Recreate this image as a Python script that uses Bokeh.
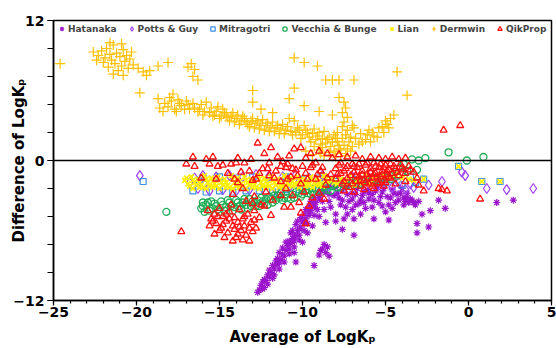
from bokeh.plotting import figure
from bokeh.models import FixedTicker, Span, Legend, LegendItem
from bokeh.embed import file_html
from bokeh.resources import INLINE

# ---------------- data ----------------
x_ticks = [-25, -20, -15, -10, -5, 0, 5]
x_minor = list(range(-25, 6))
y_ticks = [-12, 0, 12]
y_minor = [-12, -9.6, -7.2, -4.8, -2.4, 0, 2.4, 4.8, 7.2, 9.6, 12]

x_title = "Average of LogK\u209a"
y_title = "Difference of LogK\u209a"

hatanaka = [
    (-12.6, -11.1), (-12.5, -10.7), (-12.3, -10.9), (-12.2, -10.3), (-12.0, -10.0), (-12.3, -10.2),
    (-11.9, -9.6), (-11.7, -9.3), (-12.0, -9.4), (-11.5, -8.9), (-11.6, -8.6), (-11.3, -8.5),
    (-11.2, -8.1), (-11.4, -7.9), (-11.0, -7.7), (-10.9, -7.3), (-10.7, -7.1), (-11.0, -7.0),
    (-10.6, -6.7), (-10.4, -6.4), (-10.7, -6.2), (-10.3, -6.0), (-10.1, -5.7), (-10.4, -5.5),
    (-9.9, -5.4), (-9.8, -5.0), (-10.1, -4.9), (-9.6, -4.7), (-9.5, -4.3), (-9.8, -4.2),
    (-9.3, -4.0), (-9.2, -3.6), (-9.5, -3.5), (-9.0, -3.3), (-8.9, -2.9), (-8.7, -2.7),
    (-8.5, -2.4), (-8.8, -2.3), (-8.2, -2.2),
    (-12.7, -11.3), (-12.4, -11.0), (-12.1, -10.6), (-12.4, -10.4), (-11.8, -10.1), (-12.1, -9.8),
    (-11.7, -9.8), (-11.4, -9.3), (-11.8, -9.0), (-11.4, -8.8), (-11.1, -8.7), (-11.5, -8.4),
    (-11.1, -8.2), (-10.8, -8.0), (-11.2, -7.5), (-10.8, -7.6), (-10.5, -7.4), (-10.8, -6.9),
    (-10.5, -6.9), (-10.2, -6.8), (-10.5, -6.5), (-10.2, -6.4), (-10.6, -6.0), (-10.2, -5.9),
    (-9.9, -6.0), (-10.3, -5.2), (-10.0, -5.2), (-9.7, -5.4), (-9.9, -4.6), (-9.6, -4.4),
    (-9.3, -4.7), (-9.6, -3.9), (-9.3, -3.8), (-9.1, -4.2), (-9.3, -3.2), (-9.0, -3.0),
    (-8.8, -3.5), (-8.9, -2.5), (-8.6, -2.5), (-8.4, -2.9), (-8.3, -2.0), (-8.0, -2.0),
    (-10.5, -7.9), (-10.0, -7.0), (-9.7, -6.2), (-9.4, -5.6), (-9.0, -4.8), (-8.7, -4.2),
    (-8.4, -3.5), (-8.1, -3.0),
    (-10.4, -8.7), (-9.3, -9.0), (-8.8, -7.6), (-8.6, -7.9), (-8.5, -7.4), (-8.7, -7.2),
    (-9.0, -8.1), (-8.4, -8.2), (-8.9, -7.7), (-7.6, -5.9), (-6.9, -6.4),
    (-8.0, -2.3), (-7.6, -2.6), (-7.3, -2.2), (-7.0, -2.8), (-6.7, -2.4), (-6.4, -3.0),
    (-6.1, -2.5), (-5.8, -2.9), (-5.5, -2.3), (-5.2, -2.7), (-4.9, -3.1), (-4.6, -2.5),
    (-4.3, -2.9), (-4.0, -2.4), (-3.7, -2.8), (-3.4, -3.4), (-3.2, -3.8), (-3.6, -3.6),
    (-7.8, -3.2), (-7.2, -3.5), (-6.6, -3.7), (-6.0, -3.3), (-5.4, -3.6), (-4.8, -3.8),
    (-4.2, -3.4), (-3.9, -3.2), (-7.4, -4.0), (-6.2, -4.1), (-5.0, -4.4), (-3.0, -3.5),
    (-3.8, -3.5), (-3.5, -3.3), (-3.3, -3.6),
    (-7.9, -2.8), (-7.6, -3.4), (-7.3, -2.9), (-7.0, -3.3), (-6.8, -2.9), (-6.5, -3.4),
    (-6.3, -2.7), (-6.0, -2.8), (-5.7, -3.4), (-5.6, -2.6), (-5.3, -3.1), (-5.1, -2.4),
    (-4.7, -3.2), (-4.5, -2.8), (-4.4, -3.6), (-4.1, -2.8), (-3.9, -3.8), (-3.7, -3.2),
    (-7.7, -3.8), (-7.0, -4.2), (-6.8, -3.8), (-6.3, -3.6), (-5.8, -4.0), (-5.2, -3.9),
    (-4.6, -4.1), (-8.0, -4.6), (-7.3, -4.6), (-8.3, -4.0), (-8.0, -5.2), (-7.5, -5.0),
    (-6.9, -5.0), (-8.6, -5.3),
    (-5.7, -5.0), (-4.8, -5.1), (-3.1, -5.4), (-3.1, -6.2), (-2.4, -5.7), (-1.8, -3.4),
    (-1.4, -4.1), (-2.3, -4.3), (1.7, -3.6), (2.7, -3.4), (-6.5, -4.6), (-2.8, -4.6),
]

potts_guy = [
    (-19.8, -1.3),
    (-16.8, -1.9), (-16.5, -1.5), (-16.3, -2.4), (-16.0, -1.3), (-15.6, -2.6), (-15.2, -1.4),
    (-14.8, -2.5), (-14.4, -1.3), (-14.0, -2.6), (-13.6, -1.4), (-13.2, -2.5), (-12.8, -1.2),
    (-12.4, -2.4), (-12.0, -1.3), (-11.6, -2.5), (-11.2, -1.4), (-10.8, -2.3), (-10.4, -1.2),
    (-10.0, -2.4), (-9.6, -1.5), (-9.2, -2.3), (-8.8, -1.3), (-8.4, -2.2), (-8.0, -1.6),
    (-7.5, -2.1), (-7.0, -1.4), (-6.5, -2.0), (-6.0, -1.5), (-5.5, -2.2), (-5.0, -1.7),
    (-4.6, -2.3), (-4.2, -1.9), (-3.8, -2.5), (-3.5, -2.0), (-15.9, -2.0), (-13.0, -1.9),
    (-10.2, -1.8),
    (-3.3, -2.3), (-2.4, -2.1), (-0.4, -1.0), (-0.2, -1.3), (1.1, -2.4), (2.3, -2.5),
    (3.9, -2.4), (-1.6, -1.8),
]

mitragotri = [
    (-19.6, -1.8),
    (-16.6, -2.6), (-16.2, -1.7), (-15.8, -2.7), (-15.0, -2.6), (-14.2, -2.7), (-13.4, -2.6),
    (-12.6, -2.6), (-11.8, -2.7), (-11.0, -2.5), (-10.2, -2.5), (-9.4, -2.4), (-8.6, -2.3),
    (-16.0, -1.5), (-15.0, -1.4), (-14.0, -1.5), (-13.0, -1.4), (-12.0, -1.5), (-11.0, -1.4),
    (-10.0, -1.6), (-9.0, -1.5), (-8.0, -1.8), (-7.0, -1.7), (-6.0, -1.8), (-5.0, -1.9),
    (-4.0, -2.1), (-3.5, -1.4), (-2.7, -1.6), (-0.6, -0.5), (0.8, -1.8), (1.9, -1.8),
    (-4.6, -1.6), (-3.2, -1.9),
]

vecchia_bunge = [
    (-18.2, -4.4),
    (-16.0, -3.6), (-16.1, -4.1), (-15.8, -3.8), (-15.6, -4.3), (-15.5, -3.5), (-15.2, -3.9),
    (-15.0, -4.4), (-14.9, -3.5), (-14.6, -4.0), (-14.4, -3.6), (-14.2, -4.3), (-14.0, -3.4),
    (-13.8, -3.9), (-13.5, -3.3), (-13.3, -4.1), (-13.0, -3.5), (-12.8, -3.9), (-12.5, -3.2),
    (-12.3, -3.7), (-12.0, -3.1), (-11.8, -3.6), (-11.5, -3.0), (-11.2, -3.4), (-11.0, -2.9),
    (-10.7, -3.3), (-10.4, -2.7), (-10.1, -3.1), (-9.8, -2.6), (-9.5, -2.9), (-9.2, -2.4),
    (-8.9, -2.7), (-8.6, -2.2), (-8.3, -2.6), (-8.0, -2.0), (-7.7, -2.3), (-7.4, -1.9),
    (-7.1, -2.2), (-6.8, -1.7), (-6.5, -2.0), (-6.2, -1.6), (-5.9, -1.9), (-5.6, -1.5),
    (-5.3, -1.8), (-5.0, -1.3), (-4.7, -1.6), (-4.4, -1.0), (-4.1, -0.6), (-3.9, -0.3),
    (-3.4, 0.1), (-3.0, 0.0), (-2.6, 0.2), (-3.1, -0.8), (-3.7, -0.9),
    (-16.0, -3.9), (-15.9, -4.4), (-15.7, -3.6), (-15.4, -4.1), (-15.3, -3.7), (-15.1, -4.2),
    (-14.8, -3.8), (-14.7, -4.3), (-14.5, -3.4), (-14.3, -3.9), (-14.1, -4.0), (-13.9, -3.6),
    (-13.7, -4.2), (-13.6, -3.6), (-13.4, -3.8), (-13.2, -3.3), (-13.1, -3.9), (-12.9, -3.6),
    (-12.7, -3.4), (-12.6, -3.9), (-12.4, -3.5), (-12.2, -3.3), (-12.1, -3.8), (-11.9, -3.3),
    (-11.7, -3.0), (-11.6, -3.4), (-11.4, -3.2), (-11.3, -2.8), (-11.1, -3.2), (-10.9, -3.2),
    (-10.6, -2.9), (-10.5, -3.2), (-10.2, -2.8), (-10.0, -2.9), (-9.7, -2.8), (-9.6, -2.5),
    (-9.4, -2.7), (-9.0, -2.5), (-8.8, -2.3), (-8.5, -2.5), (-8.2, -2.2), (-7.9, -2.3),
    (-7.6, -2.0), (-7.3, -2.1), (-7.0, -1.9), (-6.7, -2.0), (-6.4, -1.8), (-6.1, -1.8),
    (-5.8, -1.6), (-5.5, -1.7), (-5.2, -1.5), (-4.9, -1.5), (-4.6, -1.3), (-4.3, -1.3),
    (-4.0, -1.0),
    (-1.2, 0.7), (-0.1, 0.0), (0.9, 0.3),
]

lian = [
    (-17.1, -1.7), (-16.7, -1.4), (-16.3, -1.6), (-15.9, -1.3), (-15.5, -1.5), (-15.1, -1.4),
    (-14.7, -1.6), (-14.3, -1.3), (-13.9, -1.5), (-13.5, -1.4), (-13.1, -1.6), (-12.7, -1.3),
    (-12.3, -1.5), (-11.9, -1.4), (-11.5, -1.6), (-11.1, -1.3), (-10.7, -1.5), (-10.3, -1.4),
    (-9.9, -1.6), (-9.5, -1.4), (-9.1, -1.5), (-8.7, -1.3), (-8.3, -1.6),
    (-16.9, -2.0), (-16.5, -1.9), (-16.1, -2.1), (-15.7, -1.9), (-15.3, -2.0), (-14.9, -1.9),
    (-14.5, -2.1), (-14.1, -1.9), (-13.7, -2.0), (-13.3, -1.9), (-12.9, -2.1), (-12.5, -1.9),
    (-12.1, -2.0), (-11.7, -1.9), (-11.3, -2.1), (-10.9, -1.9), (-10.5, -2.0), (-10.1, -1.9),
    (-9.7, -2.1), (-9.3, -1.9), (-8.9, -2.0), (-8.5, -1.8), (-8.1, -1.9),
    (-16.6, -2.4), (-16.2, -2.3), (-15.8, -2.4), (-15.4, -2.3), (-15.0, -2.4), (-14.6, -2.3),
    (-14.2, -2.4), (-13.8, -2.3), (-13.4, -2.4), (-13.0, -2.3), (-12.6, -2.4), (-12.2, -2.3),
    (-11.8, -2.4), (-11.4, -2.3), (-11.0, -2.3), (-10.6, -2.2), (-10.2, -2.3), (-9.8, -2.2),
    (-9.4, -2.3), (-9.0, -2.1),
    (-17.0, -1.5), (-16.6, -1.7), (-16.2, -1.9), (-15.8, -1.6), (-15.4, -1.8), (-15.0, -1.7),
    (-14.6, -1.9), (-14.2, -1.6), (-13.8, -1.8), (-13.4, -1.7), (-13.0, -1.9), (-12.6, -1.6),
    (-12.2, -1.8), (-11.8, -1.7), (-11.4, -1.9), (-11.0, -1.6), (-10.6, -1.8), (-10.2, -1.7),
    (-9.8, -1.8), (-9.4, -1.7), (-9.0, -1.8), (-8.6, -1.6), (-8.2, -1.7),
    (-16.8, -2.2), (-16.4, -2.1), (-16.0, -2.3), (-15.6, -2.2), (-15.2, -2.2), (-14.8, -2.1),
    (-14.4, -2.3), (-14.0, -2.2), (-13.6, -2.2), (-13.2, -2.1), (-12.8, -2.3), (-12.4, -2.2),
    (-12.0, -2.2), (-11.6, -2.1), (-11.2, -2.2), (-10.8, -2.1), (-10.4, -2.1), (-10.0, -2.1),
    (-9.6, -2.0), (-9.2, -2.1), (-8.8, -2.2),
    (-7.7, -1.6), (-7.2, -1.4), (-6.7, -1.7), (-6.2, -1.3), (-5.7, -1.6), (-5.2, -1.3),
    (-4.8, -1.5), (-4.4, -1.2), (-4.0, -1.5), (-3.6, -1.6), (-3.3, -1.7), (-2.7, -1.6),
    (-0.6, -0.5), (0.8, -1.8), (1.9, -1.8), (-7.9, -2.0), (-7.4, -1.9), (-6.9, -2.1),
    (-6.4, -1.9), (-5.9, -2.0),
]

dermwin = [
    (-24.6, 8.3),
    (-22.6, 9.3), (-22.3, 9.0), (-22.1, 9.4), (-21.9, 8.8), (-21.8, 9.6), (-21.6, 9.1),
    (-21.5, 8.6), (-21.4, 9.9), (-21.3, 8.3), (-21.2, 9.2), (-21.0, 8.9), (-20.9, 8.1),
    (-20.8, 9.5), (-20.7, 8.5), (-20.6, 9.0), (-20.5, 7.9), (-20.4, 8.7), (-20.3, 9.3),
    (-21.7, 8.0), (-22.0, 8.4), (-21.1, 7.7), (-20.8, 7.3), (-21.4, 7.4), (-20.2, 8.2),
    (-22.4, 8.6), (-21.6, 10.1), (-20.9, 10.0),
    (-19.9, 7.9), (-19.6, 7.6), (-19.4, 7.3), (-19.2, 7.7), (-18.7, 8.1), (-18.1, 8.4),
    (-16.7, 8.3), (-16.5, 7.8), (-16.6, 7.2), (-16.3, 6.9), (-16.9, 8.0), (-19.8, 5.8),
    (-18.7, 5.3),
    (-18.6, 4.5), (-18.3, 4.9), (-18.0, 5.4), (-17.8, 5.7), (-17.5, 5.2), (-17.3, 4.7),
    (-17.0, 5.1), (-16.8, 4.4), (-16.6, 4.9), (-16.3, 4.2), (-16.1, 4.8), (-15.8, 5.0),
    (-15.5, 4.5), (-15.4, 3.8), (-15.2, 4.2), (-15.0, 3.6), (-14.8, 4.4), (-14.6, 3.9),
    (-14.4, 3.4), (-14.2, 4.1), (-14.0, 3.6), (-13.8, 3.1), (-13.6, 3.8), (-13.4, 3.3),
    (-13.2, 2.9), (-13.0, 3.6), (-12.8, 3.2), (-12.6, 2.7), (-12.4, 3.5), (-12.2, 3.0),
    (-12.0, 2.5), (-11.8, 3.3), (-11.6, 2.8), (-11.4, 2.3), (-11.2, 3.1), (-11.0, 2.6),
    (-10.8, 3.6), (-10.6, 2.2), (-10.5, 3.4), (-10.3, 2.8), (-10.1, 1.9), (-9.9, 3.0),
    (-9.7, 2.4), (-9.5, 1.6), (-9.3, 2.7), (-9.1, 2.1), (-8.9, 1.4), (-8.7, 2.5),
    (-8.5, 1.8), (-8.3, 1.2), (-8.1, 2.2), (-7.9, 1.6), (-7.7, 0.9), (-17.6, 4.2),
    (-16.0, 3.9), (-13.0, 6.0), (-13.0, 5.0),
    (-18.4, 4.2), (-18.1, 4.6), (-17.9, 5.1), (-17.7, 4.4), (-17.4, 4.9), (-17.1, 4.4),
    (-16.9, 4.8), (-16.5, 4.5), (-16.2, 4.4), (-15.9, 4.2), (-15.6, 4.1), (-15.3, 3.9),
    (-15.1, 4.6), (-14.9, 3.8), (-14.7, 4.1), (-14.5, 3.7), (-14.3, 3.8), (-14.1, 3.3),
    (-13.9, 3.9), (-13.7, 3.4), (-13.5, 3.6), (-13.3, 3.1), (-13.1, 3.4), (-12.9, 2.8),
    (-12.7, 3.4), (-12.5, 3.0), (-12.3, 2.6), (-12.1, 3.2), (-11.9, 2.8), (-11.7, 2.5),
    (-11.5, 3.0), (-11.3, 2.7), (-11.1, 2.3), (-10.9, 2.9), (-10.7, 2.5), (-10.4, 2.4),
    (-10.2, 2.6), (-10.0, 2.2), (-9.8, 2.6), (-9.6, 2.0), (-9.4, 2.3), (-9.2, 1.8),
    (-9.0, 2.4), (-8.8, 1.9), (-8.6, 1.5), (-8.4, 2.0), (-8.2, 1.6), (-8.0, 1.9),
    (-7.8, 1.0), (-9.3, 1.2), (-8.9, 0.6), (-8.1, 0.8),
    (-10.5, 8.8), (-9.9, 8.4), (-9.1, 8.1), (-8.6, 6.9), (-8.2, 6.9), (-7.8, 6.9),
    (-6.9, 6.9), (-7.8, 5.4), (-10.5, 6.2), (-10.8, 5.3), (-9.9, 4.7), (-4.3, 7.6),
    (-3.7, 5.6), (-11.8, 4.1), (-12.5, 4.4), (-9.0, 4.2), (-8.2, 3.9),
    (-7.5, 5.0), (-7.4, 4.5), (-7.6, 4.1), (-7.3, 3.7), (-7.5, 3.3), (-7.6, 2.9),
    (-7.3, 2.6), (-7.4, 2.2), (-7.6, 1.9), (-7.2, 1.6), (-7.5, 1.3), (-7.3, 1.0),
    (-7.7, 0.6), (-7.4, 0.4), (-7.1, 0.8), (-7.8, 1.3), (-7.0, 1.2), (-7.9, 2.4),
    (-7.1, 2.0), (-7.0, 3.0),
    (-9.8, 0.8), (-9.4, 0.5), (-9.0, 0.9), (-8.7, 0.4), (-8.4, 0.7), (-8.0, 0.3), (-8.8, 1.1),
    (-6.8, 1.9), (-6.5, 2.3), (-6.2, 1.8), (-6.0, 2.6), (-5.7, 2.1), (-5.4, 2.8),
    (-5.1, 2.4), (-4.9, 3.1), (-4.7, 3.6), (-4.5, 3.9), (-6.6, 1.4), (-5.9, 1.6), (-6.9, 2.8),
    (-6.4, 1.6), (-6.1, 2.2), (-5.8, 2.4), (-5.5, 2.0), (-5.2, 2.9), (-5.0, 3.4), (-4.8, 2.8),
]

qikprop = [
    (-17.0, -0.3), (-16.6, 0.3), (-15.6, -0.3), (-15.4, 0.3), (-15.1, -0.5), (-14.8, -0.4),
    (-14.3, -0.3), (-13.9, 0.2), (-13.5, -0.2), (-13.1, 0.1), (-12.7, 1.5), (-12.3, 0.6),
    (-11.9, 1.1), (-11.5, 0.3), (-11.2, -0.1), (-10.8, 0.4), (-10.5, 1.0), (-10.1, 1.1),
    (-9.8, 0.2), (-9.5, 0.6), (-9.0, 0.8), (-8.5, 0.6), (-8.2, 0.2), (-7.8, 0.5),
    (-7.3, 0.3), (-6.8, 0.4), (-6.4, 0.1), (-5.9, 0.3), (-5.4, 0.2), (-5.0, 0.1),
    (-4.6, 0.3), (-4.2, 0.1), (-3.8, 0.2), (-12.0, -0.2), (-10.9, -0.3), (-9.2, -0.2),
    (-1.5, 2.6), (-0.5, 3.0), (-16.5, -0.5), (-15.8, 0.1), (-14.0, -0.2),
    (-16.1, -1.5), (-15.2, -1.6), (-13.9, -1.9), (-14.5, -1.1), (-13.2, -0.9), (-12.8, -1.6),
    (-12.4, -0.7), (-12.0, -1.3), (-11.6, -0.9), (-11.3, -1.8), (-11.0, -0.6), (-10.7, -1.4),
    (-10.4, -0.8), (-10.1, -2.0), (-9.8, -1.1), (-9.5, -0.6), (-9.2, -1.6), (-8.9, -0.9),
    (-8.6, -2.1), (-8.3, -1.2), (-8.0, -0.7), (-13.6, -2.4), (-12.2, -2.7), (-11.0, -2.4),
    (-10.6, -3.0), (-9.9, -2.7), (-9.4, -3.2), (-12.9, -3.1), (-11.8, -3.4), (-11.3, -3.0),
    (-10.2, -3.6), (-9.0, -2.8), (-14.2, -2.9), (-13.4, -3.5), (-12.5, -3.8), (-11.1, -4.0),
    (-9.6, -3.9), (-8.7, -3.3),
    (-8.5, -1.5), (-8.8, -0.6), (-9.1, -1.2), (-9.4, -0.4), (-9.7, -1.6), (-10.0, -0.5),
    (-10.3, -1.3), (-10.6, -0.7), (-10.9, -1.6), (-11.3, -0.5), (-11.7, -1.5), (-12.1, -0.7),
    (-12.6, -1.1), (-13.0, -1.7), (-13.7, -1.0), (-14.1, -1.6),
    (-8.0, -1.6), (-7.8, -0.4), (-7.7, -1.1), (-7.6, -2.0), (-7.4, -0.7), (-7.3, -1.5),
    (-7.2, -2.3), (-7.0, -0.3), (-6.9, -1.0), (-6.8, -1.8), (-6.7, -0.6), (-6.6, -1.4),
    (-6.5, -2.2), (-6.4, -0.9), (-6.3, -1.7), (-6.2, -0.4), (-6.1, -1.2), (-6.0, -2.0),
    (-5.9, -0.7), (-5.8, -1.5), (-5.7, -0.2), (-5.6, -1.1), (-5.5, -1.9), (-5.4, -0.6),
    (-5.3, -1.4), (-5.2, -0.9), (-5.1, -1.7), (-5.0, -0.4), (-4.9, -1.2), (-4.8, -0.8),
    (-4.7, -1.5), (-4.5, -0.5), (-4.3, -1.0), (-4.1, -0.3), (-3.9, -0.8), (-3.6, -0.5),
    (-3.3, -1.0), (-3.1, -1.5), (-7.5, -2.6), (-6.9, -2.7), (-6.3, -2.5), (-5.7, -2.4),
    (-5.1, -2.2),
    (-7.9, -1.2), (-7.7, -0.2), (-7.5, -1.8), (-7.5, -0.9), (-7.3, -0.5), (-7.1, -1.3),
    (-7.0, -2.0), (-6.9, -0.5), (-6.8, -1.3), (-6.6, -0.3), (-6.5, -1.7), (-6.4, -1.2),
    (-6.2, -1.9), (-6.1, -0.2), (-6.0, -1.5), (-5.9, -1.0), (-5.8, -2.2), (-5.7, -1.2),
    (-5.6, -0.5), (-5.5, -1.4), (-5.4, -2.0), (-5.3, -0.3), (-5.2, -1.2), (-5.1, -0.6),
    (-5.0, -1.9), (-4.9, -0.9), (-4.8, -1.4), (-4.7, -0.3), (-4.6, -1.1), (-4.4, -0.7),
    (-4.2, -1.3), (-4.0, -0.6), (-3.8, -1.1), (-3.5, -0.8),
    (-3.0, -2.1), (-2.7, -2.6), (-1.8, -2.4), (-1.6, -2.5), (-1.3, -2.6), (0.7, -3.3),
    (-4.4, -2.0), (-3.8, -1.8),
    (-15.7, -4.3), (-15.5, -5.0), (-15.3, -4.6), (-15.2, -5.4), (-15.0, -4.1), (-14.9, -5.8),
    (-14.8, -4.8), (-14.6, -5.2), (-14.5, -6.2), (-14.4, -4.4), (-14.2, -5.6), (-14.1, -4.9),
    (-14.0, -6.6), (-13.9, -5.3), (-13.8, -4.2), (-13.7, -6.0), (-13.6, -5.0), (-13.5, -5.6),
    (-13.4, -6.4), (-13.3, -4.6), (-13.2, -6.9), (-13.1, -5.3), (-13.0, -6.1), (-12.9, -4.3),
    (-12.8, -5.8), (-15.6, -5.6), (-15.0, -6.0), (-14.7, -6.6), (-13.6, -6.8), (-12.6, -4.9),
    (-15.4, -5.2), (-15.1, -4.8), (-14.8, -5.5), (-14.4, -5.0), (-14.1, -5.9), (-13.8, -5.7),
    (-13.5, -4.8), (-13.2, -5.8), (-12.9, -5.1), (-14.6, -4.6), (-15.3, -6.3), (-14.2, -6.9),
    (-13.9, -6.3),
    (-12.3, -3.9), (-11.9, -4.7), (-10.7, -4.0), (-10.1, -4.5), (-9.8, -5.4), (-17.3, -6.1),
    (-14.3, -3.8), (-13.0, -3.7),
]

series = [
    ("Hatanaka", hatanaka, "asterisk", "#9B14CC", 7, 1.2),
    ("Potts & Guy", potts_guy, "diamond", "#A040F0", 10, 1.2),
    ("Mitragotri", mitragotri, "square", "#3A8EE6", 6, 1.2),
    ("Vecchia & Bunge", vecchia_bunge, "circle", "#1FAE55", 7, 1.3),
    ("Lian", lian, "x", "#FFF000", 7, 1.8),
    ("Dermwin", dermwin, "cross", "#FFC000", 10, 1.2),
    ("QikProp", qikprop, "triangle", "#FF1010", 7, 1.3),
]

# ---------------- figure ----------------
FONT = "DejaVu Sans"

p = figure(width=556, height=348, x_range=(-25, 5), y_range=(-12, 12),
           output_backend="svg", toolbar_location=None,
           min_border_left=53, min_border_right=5, min_border_top=20, min_border_bottom=48)

p.xgrid.grid_line_color = None
p.ygrid.grid_line_color = None
p.outline_line_color = "black"
p.outline_line_width = 1.5
p.outline_line_alpha = 1.0
p.background_fill_color = "white"
p.border_fill_color = "white"

p.xaxis.ticker = FixedTicker(ticks=x_ticks, minor_ticks=x_minor)
p.yaxis.ticker = FixedTicker(ticks=y_ticks, minor_ticks=y_minor)

for ax in (p.xaxis, p.yaxis):
    ax.axis_line_color = "black"
    ax.axis_line_width = 1.5
    ax.major_tick_line_color = "black"
    ax.minor_tick_line_color = "black"
    ax.major_tick_line_width = 1.2
    ax.minor_tick_line_width = 1.2
    ax.major_tick_in = 0
    ax.minor_tick_in = 0
    ax.major_label_text_font = FONT
    ax.major_label_text_font_style = "bold"
    ax.major_label_text_font_size = "14px"
    ax.major_label_text_color = "black"
    ax.axis_label_text_font = FONT
    ax.axis_label_text_font_style = "bold"
    ax.axis_label_text_font_size = "15px"
    ax.axis_label_text_color = "black"

p.xaxis.axis_label = x_title
p.yaxis.axis_label = y_title

p.xaxis.major_tick_out = 5
p.xaxis.minor_tick_out = 3
p.xaxis.major_label_standoff = 1
p.xaxis.axis_label_standoff = 8
p.yaxis.major_tick_out = 6
p.yaxis.minor_tick_out = 6
p.yaxis.major_label_standoff = 3
p.yaxis.axis_label_standoff = -18

p.add_layout(Span(location=0, dimension="width", line_color="black", line_width=1.5))

items = []
for name, pts, marker, color, size, lw in series:
    xs = [a for a, b in pts]
    ys = [b for a, b in pts]
    r = p.scatter(xs, ys, marker=marker, size=size, line_color=color, fill_color=None,
                  line_width=lw)
    items.append(LegendItem(label=name, renderers=[r]))

legend = Legend(items=items, orientation="horizontal", location="top_left",
                margin=1, padding=2, spacing=9, label_standoff=1,
                glyph_width=11, glyph_height=11,
                label_text_font=FONT, label_text_font_style="bold",
                label_text_font_size="9px", label_height=9,
                border_line_alpha=0, background_fill_alpha=0)
p.add_layout(legend, "center")

open("out.html", "w").write(file_html(p, INLINE))
